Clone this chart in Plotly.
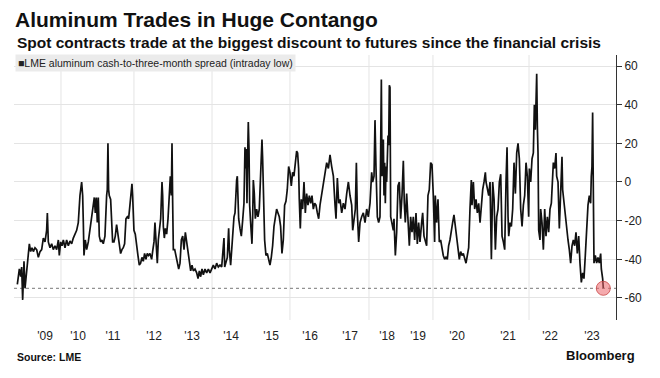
import math
import pandas as pd
import plotly.graph_objects as go

# ---- data (decimal year, spread in $/t) ----
years = [
    2008.880, 2008.932, 2008.966, 2008.991, 2009.017, 2009.051, 2009.077, 2009.103, 2009.137, 2009.171,
    2009.188, 2009.222, 2009.256, 2009.291, 2009.333, 2009.376, 2009.419, 2009.462, 2009.504, 2009.547,
    2009.590, 2009.632, 2009.650, 2009.675, 2009.718, 2009.761, 2009.803, 2009.846, 2009.889, 2009.932,
    2009.957, 2009.991, 2010.026, 2010.060, 2010.103, 2010.145, 2010.188, 2010.231, 2010.274, 2010.316,
    2010.359, 2010.402, 2010.444, 2010.487, 2010.530, 2010.556, 2010.573, 2010.590, 2010.624, 2010.658,
    2010.701, 2010.744, 2010.786, 2010.829, 2010.855, 2010.880, 2010.906, 2010.932, 2010.957, 2010.983,
    2011.017, 2011.051, 2011.085, 2011.128, 2011.154, 2011.171, 2011.188, 2011.205, 2011.222, 2011.239,
    2011.274, 2011.299, 2011.325, 2011.359, 2011.393, 2011.427, 2011.462, 2011.496, 2011.530, 2011.564,
    2011.598, 2011.632, 2011.667, 2011.701, 2011.735, 2011.769, 2011.803, 2011.821, 2011.838, 2011.872,
    2011.906, 2011.940, 2011.974, 2012.009, 2012.043, 2012.077, 2012.111, 2012.145, 2012.179, 2012.214,
    2012.248, 2012.282, 2012.325, 2012.350, 2012.385, 2012.410, 2012.436, 2012.470, 2012.496, 2012.521,
    2012.556, 2012.590, 2012.607, 2012.624, 2012.650, 2012.675, 2012.709, 2012.744, 2012.778, 2012.803,
    2012.829, 2012.846, 2012.863, 2012.880, 2012.915, 2012.949, 2012.983, 2013.017, 2013.051, 2013.085,
    2013.120, 2013.154, 2013.188, 2013.222, 2013.256, 2013.291, 2013.325, 2013.359, 2013.393, 2013.436,
    2013.479, 2013.513, 2013.547, 2013.581, 2013.615, 2013.650, 2013.692, 2013.735, 2013.778, 2013.821,
    2013.863, 2013.906, 2013.949, 2013.991, 2014.034, 2014.077, 2014.120, 2014.162, 2014.179, 2014.197,
    2014.231, 2014.265, 2014.299, 2014.316, 2014.350, 2014.376, 2014.402, 2014.436, 2014.462, 2014.487,
    2014.504, 2014.521, 2014.538, 2014.556, 2014.590, 2014.624, 2014.658, 2014.692, 2014.718, 2014.735,
    2014.752, 2014.769, 2014.786, 2014.803, 2014.821, 2014.838, 2014.863, 2014.897, 2014.915, 2014.932,
    2014.957, 2014.983, 2015.017, 2015.051, 2015.085, 2015.120, 2015.154, 2015.171, 2015.197, 2015.222,
    2015.256, 2015.291, 2015.325, 2015.359, 2015.393, 2015.427, 2015.462, 2015.496, 2015.530, 2015.564,
    2015.598, 2015.632, 2015.667, 2015.701, 2015.735, 2015.769, 2015.803, 2015.838, 2015.872, 2015.906,
    2015.940, 2015.974, 2016.009, 2016.043, 2016.068, 2016.094, 2016.111, 2016.137, 2016.162, 2016.197,
    2016.231, 2016.265, 2016.299, 2016.333, 2016.368, 2016.402, 2016.436, 2016.470, 2016.504, 2016.538,
    2016.573, 2016.607, 2016.641, 2016.684, 2016.726, 2016.769, 2016.812, 2016.855, 2016.897, 2016.940,
    2016.983, 2017.026, 2017.051, 2017.085, 2017.120, 2017.154, 2017.197, 2017.239, 2017.282, 2017.325,
    2017.368, 2017.410, 2017.453, 2017.479, 2017.513, 2017.547, 2017.573, 2017.598, 2017.632, 2017.667,
    2017.709, 2017.752, 2017.795, 2017.838, 2017.880, 2017.923, 2017.966, 2017.991, 2018.026, 2018.051,
    2018.077, 2018.111, 2018.145, 2018.179, 2018.214, 2018.231, 2018.248, 2018.265, 2018.282, 2018.299,
    2018.316, 2018.333, 2018.350, 2018.385, 2018.402, 2018.419, 2018.436, 2018.453, 2018.487, 2018.521,
    2018.538, 2018.573, 2018.607, 2018.641, 2018.675, 2018.709, 2018.744, 2018.778, 2018.803, 2018.829,
    2018.863, 2018.897, 2018.932, 2018.966, 2019.000, 2019.034, 2019.068, 2019.103, 2019.137, 2019.171,
    2019.205, 2019.248, 2019.274, 2019.308, 2019.342, 2019.376, 2019.410, 2019.444, 2019.479, 2019.513,
    2019.547, 2019.581, 2019.598, 2019.632, 2019.667, 2019.701, 2019.735, 2019.769, 2019.803, 2019.838,
    2019.872, 2019.906, 2019.940, 2019.974, 2020.009, 2020.043, 2020.077, 2020.111, 2020.145, 2020.179,
    2020.214, 2020.248, 2020.282, 2020.316, 2020.350, 2020.385, 2020.419, 2020.453, 2020.487, 2020.521,
    2020.538, 2020.573, 2020.607, 2020.641, 2020.675, 2020.709, 2020.744, 2020.778, 2020.812, 2020.846,
    2020.880, 2020.897, 2020.932, 2020.966, 2021.000, 2021.034, 2021.068, 2021.103, 2021.137, 2021.171,
    2021.205, 2021.239, 2021.274, 2021.308, 2021.342, 2021.376, 2021.410, 2021.436, 2021.462, 2021.479,
    2021.513, 2021.547, 2021.581, 2021.615, 2021.650, 2021.684, 2021.718, 2021.752, 2021.786, 2021.821,
    2021.855, 2021.889, 2021.923, 2021.957, 2021.991, 2022.009, 2022.043, 2022.077, 2022.111, 2022.137,
    2022.162, 2022.179, 2022.197, 2022.214, 2022.231, 2022.248, 2022.282, 2022.299, 2022.333, 2022.368,
    2022.402, 2022.436, 2022.470, 2022.504, 2022.538, 2022.573, 2022.607, 2022.624, 2022.658, 2022.692,
    2022.709, 2022.744, 2022.778, 2022.812, 2022.846, 2022.863, 2022.897, 2022.932, 2022.966, 2023.000,
    2023.034, 2023.068, 2023.103, 2023.137, 2023.171, 2023.205, 2023.239, 2023.274, 2023.308, 2023.342,
    2023.376, 2023.410, 2023.444, 2023.479, 2023.513, 2023.547, 2023.581, 2023.598, 2023.615, 2023.632,
    2023.650, 2023.667, 2023.701, 2023.735, 2023.769, 2023.803, 2023.838, 2023.855, 2023.889, 2023.906,
]
spread = [
    -53, -45, -49, -44, -61, -41, -55, -50, -43, -35,
    -32, -36, -34, -36, -34, -35, -39, -36, -35, -29,
    -31, -25, -16, -31, -34, -32, -35, -33, -35, -30,
    -38, -31, -33, -30, -34, -30, -33, -30.5, -32, -29,
    -27, -25, -21, -7, 0, -7, -21, -38, -30, -35,
    -31, -24, -19, -12, -8, -16, -8, -21, -8, -28,
    -31, -30, -32, -28, -9, -7, -4, 20, -4, -7,
    -9, -23, -31, -31, -28, -22, -28, -31, -37, -35,
    -34, -32, -19, -18, -19, -12, -5, -1, -7, -25,
    -27, -34, -38, -43, -42, -39, -41, -37, -40, -37,
    -38, -37, -40, -36, -31, -21, -28, -42, -30, -24,
    -19, 0, -7, -23, -29, -24, -27, -19, -7, 3,
    -7, 20, -11, -35, -35, -39, -43, -45, -42, -30,
    -28, -35, -26, -31, -35, -42, -46, -43, -46, -45,
    -47, -50, -46, -49, -45, -48, -45, -47, -45, -47,
    -45, -43, -45, -42, -44, -43, -44, -35, -29, -44,
    -42, -39, -24, -35, -43, -35, -29, -18, -16, -2,
    1, 3, -14, -19, -24, -28, -20, -11, 18, 7,
    17, -11, 13, 31, 17, -12, -21, -32, -19, 1,
    -6, -19, -14, -18, -14, 3, 22, 12, -14, -30,
    -38, -37, -40, -43, -39, -33, -23, -19, -14, -16,
    -18, -23, -37, -30, -12, -10, -4, 8, 5, -2,
    5, 3, 10, 16, 15, 7, -9, -24, -9, -14,
    0, -16, -6, -12, -7, -11, -7, -14, -11, -12,
    -16, -19, -12, -7, -2, 5, 10, 7, 14, 8,
    3, -12, -19, 2, -11, -9, -16, -11, -14, -6,
    0, -7, -12, -25, -19, -14, 10, -16, -31, -21,
    -18, -16, -21, -14, -18, -11, 5, 0, 3, 32,
    7, -18, -21, -18, 53, 3, 17, 22, -7, 10,
    -11, 8, 0, 24, 19, 50, 49, -18, -21, -25,
    -19, -38, -26, -2, 0, -19, -7, 11, -11, -21,
    -6, -21, -33, -18, -26, -18, -30, -16, -32, -21,
    -31, -21, -16, -28, -31, -33, -7, -4, 10, 9,
    -7, -31, -7, -21, -9, -31, -30, -35, -38, -40,
    -39, -40, -33, -30, -24, -21, -17, -23, -30, -37,
    -40, -36, -38, -37, -40, -42, -38, -34, -14, 1,
    -12, 0, -14, -9, -16, -11, -21, -12, -4, 0,
    5, 0, -4, -7, 0, -40, 0, -9, -35, -18,
    -14, 0, 4, -28, -31, -35, 0, 18, -18, -28,
    -21, -23, -14, 10, -6, 15, 20, 12, -14, -23,
    -12, -7, 10, 3, -18, 7, 0, 12, 15, 40,
    27, 43, 56, 29, 15, -25, -30, -14, -21, -35,
    -14, -28, -18, -26, -14, -11, 0, 10, 7, 15,
    3, 0, -24, -9, 13, -4, -11, -19, -23, -30,
    -35, -42, -33, -30, -33, -26, -37, -28, -42, -52,
    -47, -50, -38, -23, -12, -7, -11, 3, 8, 36,
    -21, -42, -38, -42, -39, -42, -37, -45, -50, -55,
]

tick_years = [2009.590, 2010.436, 2011.333, 2012.385, 2013.359, 2014.359, 2015.385, 2016.385,
              2017.410, 2018.359, 2019.154, 2020.154, 2021.462, 2022.538, 2023.615]
tick_labels = ["'09", "'10", "'11", "'12", "'13", "'14", "'15", "'16",
               "'17", "'18", "'19", "'20", "'21", "'22", "'23"]
grid_years = [2010.0, 2011.872, 2013.872, 2015.872, 2017.897, 2019.538, 2022.0]
y_ticks = [-60, -40, -20, 0, 20, 40, 60]
y_labels = ["-60", "-40", "-20", "0", "20", "40", "60"]


def to_date(y):
    yr = int(math.floor(y))
    start = pd.Timestamp(yr, 1, 1)
    end = pd.Timestamp(yr + 1, 1, 1)
    return start + (end - start) * (y - yr)


dates = [to_date(v) for v in years]

fig = go.Figure()
fig.add_trace(go.Scatter(x=dates, y=spread, mode="lines",
                         line=dict(color="#111111", width=1.7),
                         name="LME aluminum cash-to-three-month spread (intraday low)",
                         showlegend=False))
fig.add_trace(go.Scatter(x=[dates[-1]], y=[spread[-1]], mode="markers",
                         marker=dict(size=14, color="rgba(235,100,105,0.55)",
                                     line=dict(color="rgba(200,70,70,0.8)", width=1)),
                         showlegend=False))

x_min = to_date(2008.795)
x_max = to_date(2024.231)

shapes = []
for g in grid_years:
    d = to_date(g)
    shapes.append(dict(type="line", xref="x", yref="paper", x0=d, x1=d, y0=0, y1=1,
                       line=dict(color="#e4e4e4", width=1), layer="below"))
shapes.append(dict(type="line", xref="paper", yref="y", x0=0, x1=1,
                   y0=spread[-1], y1=spread[-1],
                   line=dict(color="#777777", width=1, dash="dot"), layer="below"))

fig.update_layout(
    width=660, height=378,
    margin=dict(l=14, r=44, t=55, b=58),
    paper_bgcolor="white", plot_bgcolor="white",
    font=dict(family="Liberation Sans, Arial, sans-serif", color="#222222"),
    shapes=shapes,
    title=dict(text="<b>Aluminum Trades in Huge Contango</b>",
               xref="container", yref="container", x=15 / 660, xanchor="left",
               y=1 - 20 / 378, yanchor="middle",
               font=dict(size=21, color="#111111")),
    xaxis=dict(type="date", range=[x_min, x_max], showgrid=False, zeroline=False,
               showline=False, tickvals=[to_date(t) for t in tick_years],
               ticktext=tick_labels, ticks="outside", ticklen=5,
               tickcolor="rgba(0,0,0,0)", tickfont=dict(size=12, color="#222222")),
    yaxis=dict(side="right", range=[-71.4, 65.7], tickvals=y_ticks, ticktext=y_labels,
               showgrid=True, gridcolor="#e4e4e4", zeroline=False,
               showline=True, linecolor="#333333", linewidth=1,
               ticks="outside", ticklen=5, tickcolor="#333333",
               tickfont=dict(size=12, color="#222222")),
    annotations=[
        dict(text="<b>Spot contracts trade at the biggest discount to futures since the financial crisis</b>",
             xref="paper", yref="paper", x=(15 - 14) / 602, y=(320 - 42) / 265,
             xanchor="left", yanchor="middle", showarrow=False,
             font=dict(size=15.5, color="#111111")),
        dict(text="■LME aluminum cash-to-three-month spread (intraday low)",
             xref="paper", yref="paper", x=(15 - 14) / 602, y=(320 - 62.5) / 265,
             xanchor="left", yanchor="middle", showarrow=False,
             bgcolor="#ebebeb", borderpad=2,
             font=dict(size=10.5, color="#222222")),
        dict(text="<b>Source: LME</b>",
             xref="paper", yref="paper", x=(15 - 14) / 602, y=(320 - 357) / 265,
             xanchor="left", yanchor="middle", showarrow=False,
             font=dict(size=10.5, color="#111111")),
        dict(text="<b>Bloomberg</b>",
             xref="paper", yref="paper", x=(637 - 14) / 602, y=(320 - 355) / 265,
             xanchor="right", yanchor="middle", showarrow=False,
             font=dict(size=13, color="#111111")),
    ],
)

fig.write_html("out.html", config={"displayModeBar": False},
               post_script="document.body.style.margin='0';document.body.style.padding='0';")
